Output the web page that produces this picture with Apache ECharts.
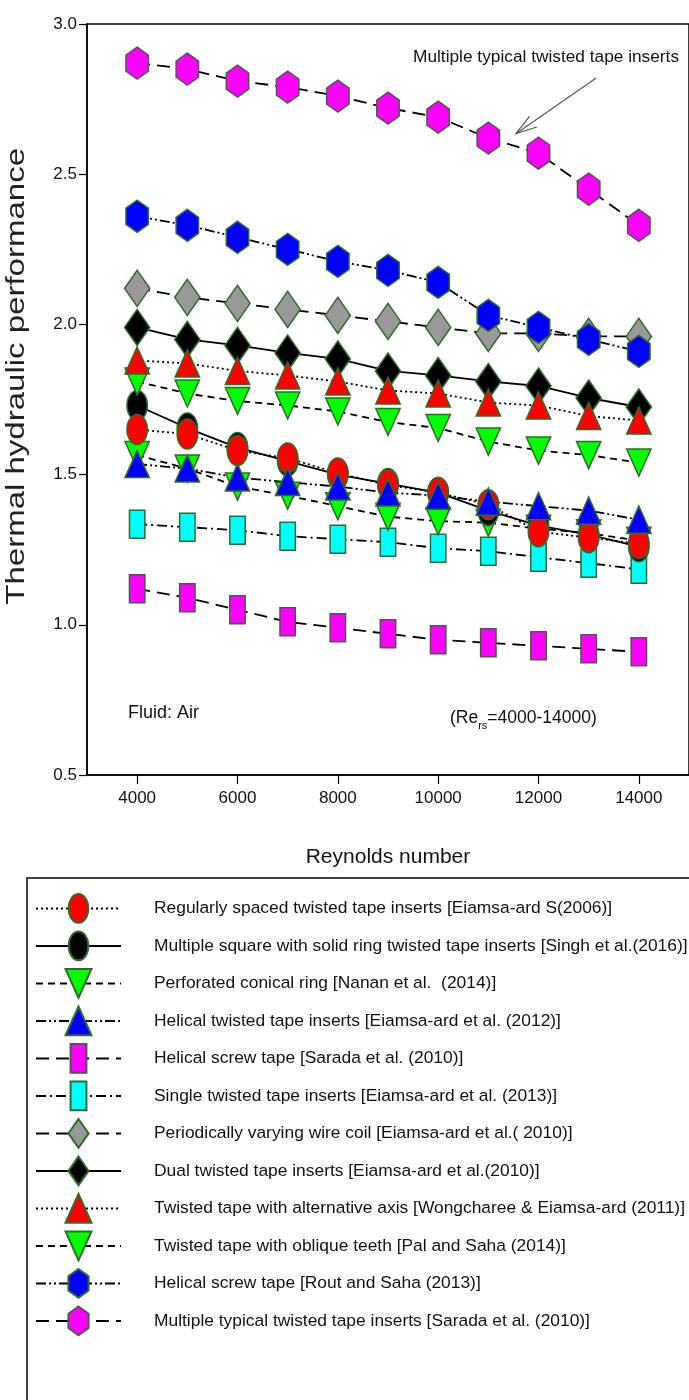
<!DOCTYPE html>
<html>
<head>
<meta charset="utf-8">
<script src="https://cdn.jsdelivr.net/npm/echarts@6.0.0/dist/echarts.min.js"></script>
<style>
  html, body { margin: 0; padding: 0; background: #ffffff; }
  #chart { width: 689px; height: 1400px; }
</style>
</head>
<body>
<div id="chart"></div>
<script>
// ---- data -------------------------------------------------------------
const reynolds = [4000, 5000, 6000, 7000, 8000, 9000, 10000, 11000, 12000, 13000, 14000];
const xTickValues = [4000, 6000, 8000, 10000, 12000, 14000];

const regularlySpaced      = [1.65, 1.635, 1.58, 1.555, 1.505, 1.465, 1.44, 1.40, 1.31, 1.29, 1.27];
const multipleSquareRing   = [1.73, 1.655, 1.59, 1.545, 1.50, 1.47, 1.44, 1.38, 1.33, 1.30, 1.26];
const perforatedConical    = [1.565, 1.52, 1.46, 1.43, 1.395, 1.36, 1.345, 1.34, 1.32, 1.305, 1.28];
const helicalTwistedTape   = [1.535, 1.52, 1.49, 1.475, 1.46, 1.44, 1.43, 1.41, 1.395, 1.38, 1.35];
const helicalScrewSarada   = [1.12, 1.09, 1.05, 1.01, 0.99, 0.97, 0.95, 0.94, 0.93, 0.92, 0.91];
const singleTwistedTape    = [1.335, 1.325, 1.315, 1.295, 1.285, 1.275, 1.255, 1.245, 1.225, 1.205, 1.185];
const varyingWireCoil      = [2.12, 2.09, 2.07, 2.05, 2.03, 2.01, 1.99, 1.97, 1.97, 1.96, 1.96];
const dualTwistedTape      = [1.99, 1.95, 1.93, 1.905, 1.885, 1.845, 1.83, 1.81, 1.795, 1.755, 1.725];
const alternativeAxis      = [1.88, 1.87, 1.845, 1.83, 1.81, 1.78, 1.77, 1.74, 1.73, 1.695, 1.68];
const obliqueTeeth         = [1.81, 1.77, 1.745, 1.73, 1.71, 1.675, 1.655, 1.61, 1.58, 1.565, 1.54];
const helicalScrewRout     = [2.36, 2.33, 2.29, 2.25, 2.21, 2.18, 2.14, 2.03, 1.99, 1.95, 1.91];
const multipleTypical      = [2.87, 2.85, 2.81, 2.79, 2.76, 2.72, 2.69, 2.62, 2.57, 2.45, 2.33];

const legendNames = [
  'Regularly spaced twisted tape inserts [Eiamsa-ard S(2006)]',
  'Multiple square with solid ring twisted tape inserts [Singh et al.(2016)]',
  'Perforated conical ring [Nanan et al.  (2014)]',
  'Helical twisted tape inserts [Eiamsa-ard et al. (2012)]',
  'Helical screw tape [Sarada et al. (2010)]',
  'Single twisted tape inserts [Eiamsa-ard et al. (2013)]',
  'Periodically varying wire coil [Eiamsa-ard et al.( 2010)]',
  'Dual twisted tape inserts [Eiamsa-ard et al.(2010)]',
  'Twisted tape with alternative axis [Wongcharee & Eiamsa-ard (2011)]',
  'Twisted tape with oblique teeth [Pal and Saha (2014)]',
  'Helical screw tape [Rout and Saha (2013)]',
  'Multiple typical twisted tape inserts [Sarada et al. (2010)]'
];

// ---- marker shapes (drawn inside a square box so legend and plot agree) ----
const BOX = 'M0,0 M20,20 ';
const SYM = {
  ellipse:  'path://' + BOX + 'M10,0 A6.8,10 0 1,1 10,20 A6.8,10 0 1,1 10,0 Z',
  hexagon:  'path://' + BOX + 'M10,0 L17,5 L17,15 L10,20 L3,15 L3,5 Z',
  rect:     'path://' + BOX + 'M4.5,0 L15.5,0 L15.5,20 L4.5,20 Z',
  diamond:  'path://' + BOX + 'M10,0 L17,10 L10,20 L3,10 Z',
  triUp:    'path://' + BOX + 'M10,0 L19,20 L1,20 Z',
  triDown:  'path://' + BOX + 'M1,0 L19,0 L10,20 Z'
};

// ---- line dash patterns ----
const DOTTED   = [2, 3];
const DASHED   = [7, 5];
const LONGDASH = [13, 7];
const DASHDOT  = [10, 4, 2, 4];
const DASHDOT2 = [10, 3, 2, 3, 2, 3];

const FONT = "'Liberation Sans', Arial, sans-serif";
const EDGE = '#2f6b2a';

// drawing order (later ones on top)
const seriesSpecs = [
  { name: legendNames[4],  data: helicalScrewSarada, symbol: SYM.rect,    size: 28, fill: '#ff00ff', edge: '#4a5a4a', dash: LONGDASH },
  { name: legendNames[5],  data: singleTwistedTape,  symbol: SYM.rect,    size: 28, fill: '#00ffff', edge: EDGE,      dash: DASHDOT },
  { name: legendNames[2],  data: perforatedConical,  symbol: SYM.triDown, size: 27, fill: '#00ff00', edge: EDGE,      dash: DASHED },
  { name: legendNames[1],  data: multipleSquareRing, symbol: SYM.ellipse, size: 30, fill: '#000000', edge: EDGE,      dash: 'solid' },
  { name: legendNames[0],  data: regularlySpaced,    symbol: SYM.ellipse, size: 30, fill: '#ff0000', edge: EDGE,      dash: DOTTED },
  { name: legendNames[3],  data: helicalTwistedTape, symbol: SYM.triUp,   size: 27, fill: '#0000ff', edge: EDGE,      dash: DASHDOT2 },
  { name: legendNames[9],  data: obliqueTeeth,       symbol: SYM.triDown, size: 27, fill: '#00ff00', edge: EDGE,      dash: DASHED },
  { name: legendNames[7],  data: dualTwistedTape,    symbol: SYM.diamond, size: 36, fill: '#000000', edge: EDGE,      dash: 'solid' },
  { name: legendNames[8],  data: alternativeAxis,    symbol: SYM.triUp,   size: 27, fill: '#ff0000', edge: EDGE,      dash: DOTTED },
  { name: legendNames[6],  data: varyingWireCoil,    symbol: SYM.diamond, size: 36, fill: '#999999', edge: EDGE,      dash: LONGDASH },
  { name: legendNames[10], data: helicalScrewRout,   symbol: SYM.hexagon, size: 32, fill: '#0000ff', edge: EDGE,      dash: DASHDOT2 },
  { name: legendNames[11], data: multipleTypical,    symbol: SYM.hexagon, size: 32, fill: '#ff00ff', edge: '#4a5a4a', dash: LONGDASH }
];

const chart = echarts.init(document.getElementById('chart'), null, { renderer: 'canvas' });

const series = seriesSpecs.map(s => ({
  type: 'line',
  name: s.name,
  data: reynolds.map((x, i) => [x, s.data[i]]),
  symbol: s.symbol,
  symbolSize: s.size,
  symbolKeepAspect: false,
  lineStyle: { color: '#000', width: 1.8, type: s.dash },
  itemStyle: { color: s.fill, borderColor: s.edge, borderWidth: 1.5, opacity: 1 },
  emphasis: { disabled: true },
  silent: true,
  animation: false
}));

chart.setOption({
  animation: false,
  backgroundColor: '#ffffff',
  grid: {
    left: 87, right: -3, top: 24, bottom: 625,
    show: true, borderColor: '#000', borderWidth: 1.5, backgroundColor: 'transparent'
  },
  xAxis: {
    type: 'value', min: 3000, max: 15000,
    name: 'Reynolds number', nameLocation: 'middle', nameGap: 72,
    nameTextStyle: { fontFamily: FONT, fontSize: 21, color: '#111' },
    axisLine: { show: true, lineStyle: { color: '#000', width: 1.5 } },
    axisTick: { show: true, length: 9, customValues: xTickValues, lineStyle: { color: '#000', width: 1.2 } },
    axisLabel: { customValues: xTickValues, fontFamily: FONT, fontSize: 17, color: '#111', margin: 15,
                 formatter: v => String(v) },
    splitLine: { show: false }
  },
  yAxis: {
    type: 'value', min: 0.5, max: 3.0, interval: 0.5,
    axisLine: { show: true, lineStyle: { color: '#000', width: 1.5 } },
    axisTick: { show: true, length: 8, lineStyle: { color: '#000', width: 1.2 } },
    axisLabel: { fontFamily: FONT, fontSize: 17, color: '#111', margin: 10, formatter: v => v.toFixed(1) },
    splitLine: { show: false }
  },
  legend: {
    orient: 'vertical', left: 35, top: 893, padding: 0,
    itemWidth: 85, itemHeight: 36, itemGap: 6.7,
    data: legendNames, selectedMode: false,
    textStyle: { fontFamily: FONT, fontSize: 17.4, color: '#111', padding: [0, 0, 0, 28] }
  },
  series: series
});

// ---- annotations ----
function textWidth(str, font) {
  const c = document.createElement('canvas').getContext('2d');
  c.font = font;
  return c.measureText(str).width;
}

const toPx = (x, y) => chart.convertToPixel({ gridIndex: 0 }, [x, y]);
const tail = toPx(13150, 2.82);
const head = toPx(11550, 2.635);
const ang = Math.atan2(tail[1] - head[1], tail[0] - head[0]);
const barb = 22, spread = 0.3;
const b1 = [head[0] + barb * Math.cos(ang + spread), head[1] + barb * Math.sin(ang + spread)];
const b2 = [head[0] + barb * Math.cos(ang - spread), head[1] + barb * Math.sin(ang - spread)];

const reX = 450, reY = 718;
const mainFont = '17.5px ' + FONT;
const subFont = '11px ' + FONT;
const w1 = textWidth('(Re', mainFont);
const w2 = textWidth('rs', subFont);

chart.setOption({
  graphic: [
    { type: 'text', left: 4, top: 148, rotation: Math.PI / 2, scaleY: 0.8, silent: true,
      style: { text: 'Thermal hydraulic performance', font: '33px ' + FONT, fill: '#222' } },
    { type: 'text', x: 413, y: 57, silent: true,
      style: { text: 'Multiple typical twisted tape inserts', font: '17.3px ' + FONT, fill: '#111', textVerticalAlign: 'middle' } },
    { type: 'polyline', silent: true, shape: { points: [tail, head] }, style: { stroke: '#555', lineWidth: 1.2, fill: null } },
    { type: 'polyline', silent: true, shape: { points: [b1, head, b2] }, style: { stroke: '#555', lineWidth: 1.2, fill: null } },
    { type: 'text', x: 128, y: 713, silent: true,
      style: { text: 'Fluid: Air', font: '18px ' + FONT, fill: '#111', textVerticalAlign: 'middle' } },
    { type: 'text', x: reX, y: reY, silent: true,
      style: { text: '(Re', font: mainFont, fill: '#111', textVerticalAlign: 'middle' } },
    { type: 'text', x: reX + w1, y: reY + 8, silent: true,
      style: { text: 'rs', font: subFont, fill: '#111', textVerticalAlign: 'middle' } },
    { type: 'text', x: reX + w1 + w2, y: reY, silent: true,
      style: { text: '=4000-14000)', font: mainFont, fill: '#111', textVerticalAlign: 'middle' } },
    { type: 'rect', silent: true, shape: { x: 27, y: 878, width: 700, height: 600 },
      style: { fill: null, stroke: '#000', lineWidth: 1.5 } }
  ]
});
</script>
</body>
</html>
